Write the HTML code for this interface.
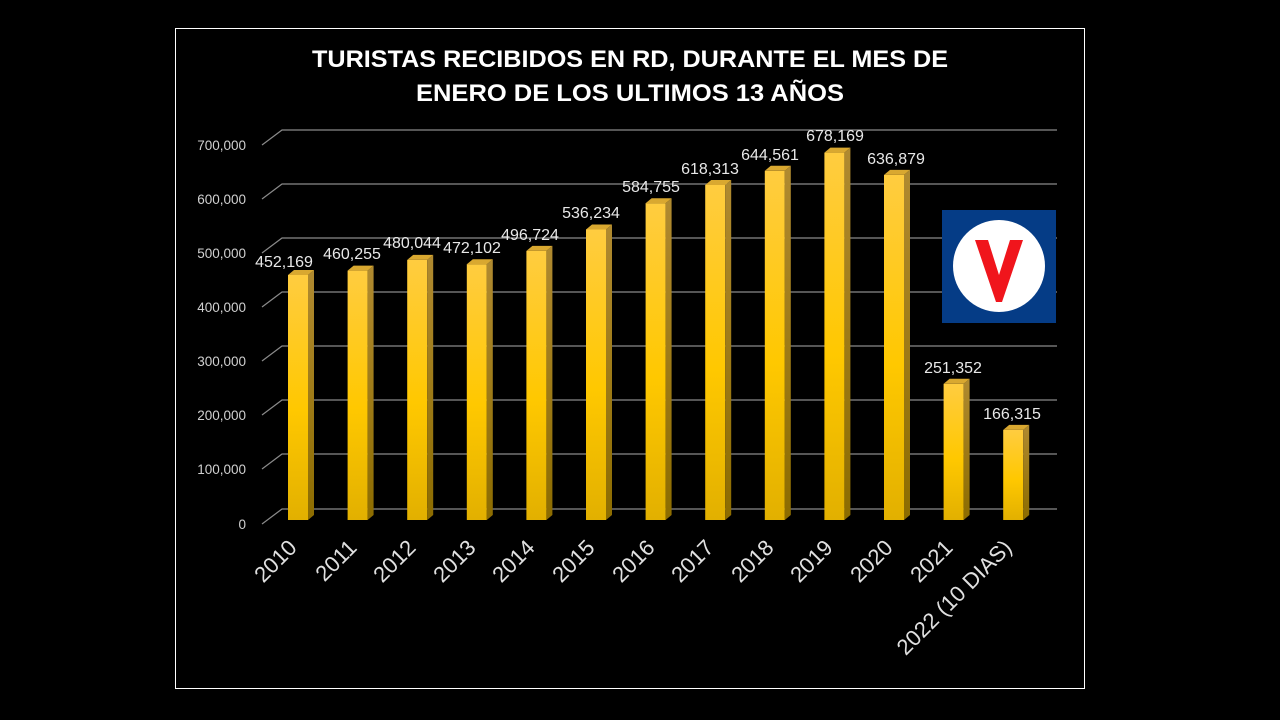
<!DOCTYPE html>
<html><head><meta charset="utf-8"><style>
html,body{margin:0;padding:0;background:#000;width:1280px;height:720px;overflow:hidden}
svg{display:block}
</style></head><body>
<svg width="1280" height="720" viewBox="0 0 1280 720" xmlns="http://www.w3.org/2000/svg" font-family="'Liberation Sans', sans-serif">
<defs>
<linearGradient id="gf" x1="0" y1="0" x2="0" y2="1">
<stop offset="0" stop-color="#ffcc40"/><stop offset="0.55" stop-color="#ffc800"/><stop offset="1" stop-color="#e2b000"/>
</linearGradient>
<linearGradient id="gs" x1="0" y1="0" x2="0" y2="1">
<stop offset="0" stop-color="#b08a30"/><stop offset="1" stop-color="#8c6c00"/>
</linearGradient>
</defs>
<rect x="175.5" y="28.5" width="909" height="660" fill="#000" stroke="#fff" stroke-width="1"/>
<g fill="#fff" font-weight="bold" font-size="24" text-anchor="middle">
<text x="630" y="67" textLength="636" lengthAdjust="spacingAndGlyphs">TURISTAS RECIBIDOS EN RD, DURANTE EL MES DE</text>
<text x="630" y="101" textLength="428" lengthAdjust="spacingAndGlyphs">ENERO DE LOS ULTIMOS 13 AÑOS</text>
</g>
<g stroke="#8a8a8a" stroke-width="1.2" fill="none">
<path d="M262 145 L282 130 L1057 130"/>
<path d="M262 199 L282 184 L1057 184"/>
<path d="M262 253 L282 238 L1057 238"/>
<path d="M262 307 L282 292 L1057 292"/>
<path d="M262 361 L282 346 L1057 346"/>
<path d="M262 415 L282 400 L1057 400"/>
<path d="M262 469 L282 454 L1057 454"/>
<path d="M262 524 L282 509 L1057 509"/>
</g>
<g fill="#d0d0d0" font-size="13.5" text-anchor="end">
<text x="246" y="150">700,000</text>
<text x="246" y="204">600,000</text>
<text x="246" y="258">500,000</text>
<text x="246" y="312">400,000</text>
<text x="246" y="366">300,000</text>
<text x="246" y="420">200,000</text>
<text x="246" y="474">100,000</text>
<text x="246" y="529">0</text>
</g>
<g>
<g transform="translate(288,0)"><rect x="0" y="275" width="20" height="245" fill="url(#gf)"/><polygon points="20,275 26,270 26,515 20,520" fill="url(#gs)"/><polygon points="0,275 6,270 26,270 20,275" fill="#d9a830"/></g>
<g transform="translate(347.6,0)"><rect x="0" y="270.6" width="20" height="249.4" fill="url(#gf)"/><polygon points="20,270.6 26,265.6 26,515 20,520" fill="url(#gs)"/><polygon points="0,270.6 6,265.6 26,265.6 20,270.6" fill="#d9a830"/></g>
<g transform="translate(407.2,0)"><rect x="0" y="259.9" width="20" height="260.1" fill="url(#gf)"/><polygon points="20,259.9 26,254.9 26,515 20,520" fill="url(#gs)"/><polygon points="0,259.9 6,254.9 26,254.9 20,259.9" fill="#d9a830"/></g>
<g transform="translate(466.8,0)"><rect x="0" y="264.2" width="20" height="255.8" fill="url(#gf)"/><polygon points="20,264.2 26,259.2 26,515 20,520" fill="url(#gs)"/><polygon points="0,264.2 6,259.2 26,259.2 20,264.2" fill="#d9a830"/></g>
<g transform="translate(526.4,0)"><rect x="0" y="250.9" width="20" height="269.1" fill="url(#gf)"/><polygon points="20,250.9 26,245.9 26,515 20,520" fill="url(#gs)"/><polygon points="0,250.9 6,245.9 26,245.9 20,250.9" fill="#d9a830"/></g>
<g transform="translate(586,0)"><rect x="0" y="229.5" width="20" height="290.5" fill="url(#gf)"/><polygon points="20,229.5 26,224.5 26,515 20,520" fill="url(#gs)"/><polygon points="0,229.5 6,224.5 26,224.5 20,229.5" fill="#d9a830"/></g>
<g transform="translate(645.6,0)"><rect x="0" y="203.2" width="20" height="316.8" fill="url(#gf)"/><polygon points="20,203.2 26,198.2 26,515 20,520" fill="url(#gs)"/><polygon points="0,203.2 6,198.2 26,198.2 20,203.2" fill="#d9a830"/></g>
<g transform="translate(705.2,0)"><rect x="0" y="185" width="20" height="335" fill="url(#gf)"/><polygon points="20,185 26,180 26,515 20,520" fill="url(#gs)"/><polygon points="0,185 6,180 26,180 20,185" fill="#d9a830"/></g>
<g transform="translate(764.8,0)"><rect x="0" y="170.8" width="20" height="349.2" fill="url(#gf)"/><polygon points="20,170.8 26,165.8 26,515 20,520" fill="url(#gs)"/><polygon points="0,170.8 6,165.8 26,165.8 20,170.8" fill="#d9a830"/></g>
<g transform="translate(824.4,0)"><rect x="0" y="152.6" width="20" height="367.4" fill="url(#gf)"/><polygon points="20,152.6 26,147.6 26,515 20,520" fill="url(#gs)"/><polygon points="0,152.6 6,147.6 26,147.6 20,152.6" fill="#d9a830"/></g>
<g transform="translate(884,0)"><rect x="0" y="174.9" width="20" height="345.1" fill="url(#gf)"/><polygon points="20,174.9 26,169.9 26,515 20,520" fill="url(#gs)"/><polygon points="0,174.9 6,169.9 26,169.9 20,174.9" fill="#d9a830"/></g>
<g transform="translate(943.6,0)"><rect x="0" y="383.8" width="20" height="136.2" fill="url(#gf)"/><polygon points="20,383.8 26,378.8 26,515 20,520" fill="url(#gs)"/><polygon points="0,383.8 6,378.8 26,378.8 20,383.8" fill="#d9a830"/></g>
<g transform="translate(1003.2,0)"><rect x="0" y="429.9" width="20" height="90.1" fill="url(#gf)"/><polygon points="20,429.9 26,424.9 26,515 20,520" fill="url(#gs)"/><polygon points="0,429.9 6,424.9 26,424.9 20,429.9" fill="#d9a830"/></g>
</g>
<g fill="#e8e8e8" font-size="16" text-anchor="middle">
<text x="284" y="267">452,169</text>
<text x="352" y="259">460,255</text>
<text x="412" y="248">480,044</text>
<text x="472" y="253">472,102</text>
<text x="530" y="240">496,724</text>
<text x="591" y="218">536,234</text>
<text x="651" y="192">584,755</text>
<text x="710" y="174">618,313</text>
<text x="770" y="160">644,561</text>
<text x="835" y="141">678,169</text>
<text x="896" y="164">636,879</text>
<text x="953" y="373">251,352</text>
<text x="1012" y="419">166,315</text>
</g>
<g fill="#e0e0e0" font-size="22" text-anchor="end">
<text transform="translate(298,549) rotate(-45)">2010</text>
<text transform="translate(358,549) rotate(-45)">2011</text>
<text transform="translate(417,549) rotate(-45)">2012</text>
<text transform="translate(477,549) rotate(-45)">2013</text>
<text transform="translate(536,549) rotate(-45)">2014</text>
<text transform="translate(596,549) rotate(-45)">2015</text>
<text transform="translate(656,549) rotate(-45)">2016</text>
<text transform="translate(715,549) rotate(-45)">2017</text>
<text transform="translate(775,549) rotate(-45)">2018</text>
<text transform="translate(834,549) rotate(-45)">2019</text>
<text transform="translate(894,549) rotate(-45)">2020</text>
<text transform="translate(954,549) rotate(-45)">2021</text>
<text transform="translate(1013,549) rotate(-45)">2022 (10 DIAS)</text>
</g>
<rect x="942" y="210" width="114" height="113" fill="#053c86"/>
<circle cx="999" cy="266" r="46" fill="#fff"/>
<polygon points="975,240 988,240 999,275 1010,240 1023,240 1002,302 996,302" fill="#f0151c"/>
</svg>
</body></html>
